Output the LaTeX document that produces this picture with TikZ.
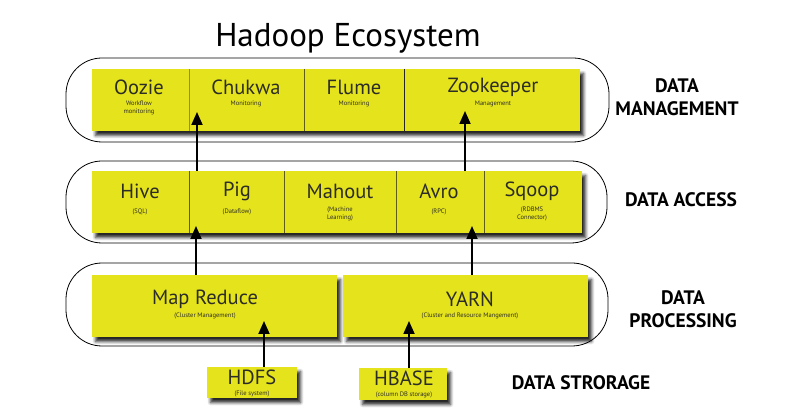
\documentclass[tikz,border=0pt]{standalone}
\usepackage{fontspec}
\setmainfont{PT Sans}
\usetikzlibrary{arrows.meta,shadows.blur}
\definecolor{hyel}{RGB}{229,227,28}
\definecolor{hdiv}{RGB}{95,92,20}
\definecolor{htxt}{RGB}{45,45,40}
\tikzset{
  container/.style={draw=black, line width=0.8pt, rounded corners=36pt},
  bar/.style={fill=hyel, draw=none, inner sep=0pt,
    blur shadow={shadow xshift=3.5pt, shadow yshift=-4.5pt, shadow blur steps=5, shadow blur radius=3pt, shadow opacity=85}},
  cell/.style={draw=none, inner sep=0pt},
  ttl/.style={text=htxt, font=\fontsize{20.5}{22}\selectfont, inner sep=0pt},
  sub/.style={text=htxt, font=\fontsize{6.5}{7.5}\selectfont, align=center, inner sep=0pt},
  side/.style={font=\bfseries\fontsize{19.5}{23}\selectfont, align=center, inner sep=0pt},
  divider/.style={hdiv, line width=1.1pt},
  flow/.style={line width=1.8pt, -{Triangle[width=11pt,length=13pt]}},
}
\begin{document}
\begin{tikzpicture}[x=1pt,y=-1pt]
\useasboundingbox (0,0) rectangle (800,419);
% title
\node[font=\fontsize{33}{36}\selectfont, inner sep=0pt] (title) at (348,38) {Hadoop Ecosystem};
% containers
\draw[container] (66,58) rectangle (609,142);
\draw[container] (66,161) rectangle (607,243);
\draw[container] (66,263) rectangle (608,346);
% top bar
\node[bar, minimum width=488pt, minimum height=62pt] (mgmt) at (336,100) {};
\node[cell, minimum width=97pt, minimum height=62pt] (oozie) at (140.5,100) {};
\node[cell, minimum width=115pt, minimum height=62pt] (chukwa) at (246.5,100) {};
\node[cell, minimum width=100pt, minimum height=62pt] (flume) at (354,100) {};
\node[cell, minimum width=176pt, minimum height=62pt] (zoo) at (492,100) {};
\draw[hdiv!60!hyel, line width=0.7pt] (oozie.north east) -- (oozie.south east);
\draw[divider] (chukwa.north east) -- (chukwa.south east);
\draw[line width=1.2pt, black!85] (flume.north east) -- (flume.south east);
\node[ttl] (oozie-t) at (139,87) {Oozie};
\node[sub, anchor=north] (oozie-s) at (139,101) {Workflow\\monitoring};
\node[ttl] (chukwa-t) at (246,87) {Chukwa};
\node[sub, anchor=north] (chukwa-s) at (246,101) {Monitoring};
\node[ttl] (flume-t) at (354,87) {Flume};
\node[sub, anchor=north] (flume-s) at (354,101) {Monitoring};
\node[ttl] (zoo-t) at (493,87) {Zookeeper};
\node[sub, anchor=north] (zoo-s) at (493,101) {Management};
% middle bar
\node[bar, minimum width=490pt, minimum height=62pt] (access) at (337,202) {};
\node[cell, minimum width=97pt, minimum height=62pt] (hive) at (140.5,202) {};
\node[cell, minimum width=95pt, minimum height=62pt] (pig) at (236.5,202) {};
\node[cell, minimum width=112pt, minimum height=62pt] (mahout) at (340,202) {};
\node[cell, minimum width=88pt, minimum height=62pt] (avro) at (440,202) {};
\node[cell, minimum width=98pt, minimum height=62pt] (sqoop) at (533,202) {};
\draw[divider] (hive.north east) -- (hive.south east);
\draw[divider] (pig.north east) -- (pig.south east);
\draw[divider] (mahout.north east) -- (mahout.south east);
\draw[divider] (avro.north east) -- (avro.south east);
\node[ttl] (hive-t) at (140,191) {Hive};
\node[sub, anchor=north] (hive-s) at (140,209) {(SQL)};
\node[ttl] (pig-t) at (237,191) {Pig};
\node[sub, anchor=north] (pig-s) at (237,209) {(Dataflow)};
\node[ttl] (mahout-t) at (340,191) {Mahout};
\node[sub, anchor=north] (mahout-s) at (340,207) {(Machine\\Learning)};
\node[ttl] (avro-t) at (439,191) {Avro};
\node[sub, anchor=north] (avro-s) at (439,209) {(RPC)};
\node[ttl] (sqoop-t) at (532,191) {Sqoop};
\node[sub, anchor=north] (sqoop-s) at (532,207) {(RDBMS\\Connector)};
% bottom bar
\node[bar, minimum width=245pt, minimum height=62pt] (mapred) at (214.5,306) {};
\node[bar, minimum width=245pt, minimum height=62pt] (yarn) at (465.5,306) {};
\node[ttl] (mapred-t) at (205,299) {Map Reduce};
\node[sub, anchor=north] (mapred-s) at (205,313) {(Cluster Management)};
\node[ttl] (yarn-t) at (470,299) {YARN};
\node[sub, anchor=north] (yarn-s) at (470,313) {(Cluster and Resource Mangement)};
% storage
\node[bar, minimum width=90pt, minimum height=31pt] (hdfs) at (252,382.5) {};
\node[bar, minimum width=88pt, minimum height=32pt] (hbase) at (403,384) {};
\node[ttl] (hdfs-t) at (252,377) {HDFS};
\node[sub, anchor=north] (hdfs-s) at (252,391) {(File system)};
\node[ttl] (hbase-t) at (404,378) {HBASE};
\node[sub, anchor=north] (hbase-s) at (404,392) {(column DB storage)};
% arrow targets
\coordinate (t1) at (264,321);
\coordinate (t2) at (409,321);
\coordinate (t3) at (196,226);
\coordinate (t4) at (472,226);
\coordinate (t5) at (197,112);
\coordinate (t6) at (465,111);
\draw[flow] (hdfs.north -| t1) -- (t1);
\draw[flow] (hbase.north -| t2) -- (t2);
\draw[flow] (mapred.north -| t3) -- (t3);
\draw[flow] (yarn.north -| t4) -- (t4);
\draw[flow] (access.north -| t5) -- (t5);
\draw[flow] (access.north -| t6) -- (t6);
% side labels
\node[side] (l1) at (677,97) {DATA\\MANAGEMENT};
\node[side] (l2) at (681,200) {DATA ACCESS};
\node[side] (l3) at (683,309) {DATA\\PROCESSING};
\node[side] (l4) at (581,383) {DATA STRORAGE};
\end{tikzpicture}
\end{document}
